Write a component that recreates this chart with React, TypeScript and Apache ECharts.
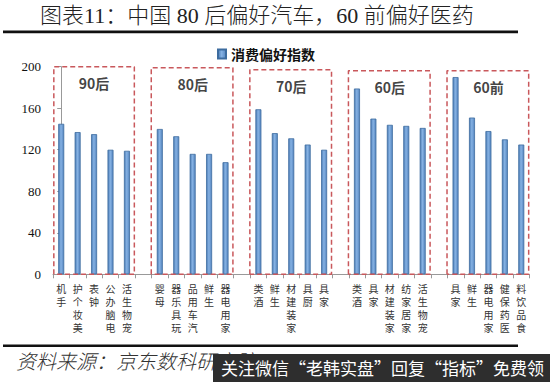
import React, { useEffect, useRef } from "react";
import * as echarts from "echarts";

const groupNames = ["90后", "80后", "70后", "60后", "60前"];
const groupCategories = [
  ["手机", "美妆个护", "钟表", "电脑办公", "宠物生活"],
  ["母婴", "玩具乐器", "汽车用品", "生鲜", "家用电器"],
  ["酒类", "生鲜", "家装建材", "厨具", "家具"],
  ["酒类", "家具", "家装建材", "家居家纺", "宠物生活"],
  ["家具", "生鲜", "家用电器", "医药保健", "食品饮料"],
];
const groupValues = [
  [145, 137, 135, 120, 119],
  [140, 133, 116, 116, 108],
  [159, 136, 131, 125, 120],
  [179, 150, 144, 143, 141],
  [190, 151, 138, 130, 125],
];
const boxTops = [200, 199, 197, 196, 196];
const yTicks = [0, 40, 80, 120, 160, 200];
const seriesName = "消费偏好指数";
const titleText = "图表11：中国 80 后偏好汽车，60 前偏好医药";
const sourceText = "资料来源：京东数科研究院";
const overlayText = "关注微信“老韩实盘”回复“指标”免费领";

export default function App() {
  const ref = useRef<HTMLDivElement>(null);
  useEffect(() => {
    if (!ref.current) return;
    const chart = echarts.init(ref.current, undefined, { renderer: "svg" });

    const categories: string[] = [];
    const values: (number | string)[] = [];
    groupCategories.forEach((g, gi) => {
      g.forEach((c, ci) => {
        categories.push(c);
        values.push(groupValues[gi][ci]);
      });
      if (gi < groupCategories.length - 1) {
        categories.push("");
        values.push("-");
      }
    });

    const boxSeries = groupNames.map((name, gi) => {
      const l = gi === 0 ? 6 * gi - 0.45 : 6 * gi - 0.52;
      const r = 6 * gi + 4.45;
      const t = boxTops[gi];
      return {
        type: "line",
        name: "box" + gi,
        xAxisIndex: 1,
        yAxisIndex: 0,
        symbol: "none",
        silent: true,
        z: 3,
        lineStyle: { color: "#c9585c", width: 1.5, type: [5, 3] },
        data: [
          [l, 0],
          [l, t],
          [r, t],
          [r, 0],
          [l, 0],
        ],
      };
    });

    const labelSeries = {
      type: "scatter",
      name: "groupLabels",
      xAxisIndex: 1,
      yAxisIndex: 0,
      symbolSize: 0.1,
      itemStyle: { color: "rgba(0,0,0,0)" },
      silent: true,
      z: 5,
      label: {
        show: true,
        position: "inside",
        formatter: "{b}",
        fontFamily: "'Noto Sans CJK SC', sans-serif",
        fontWeight: "bold",
        fontSize: 14,
        color: "#111",
      },
      data: groupNames.map((n, gi) => ({
        name: n,
        value: [6 * gi + 2, boxTops[gi] - 16],
      })),
    };

    chart.setOption({
      animation: false,
      backgroundColor: "#fff",
      legend: {
        data: [seriesName],
        left: 212,
        top: 42,
        icon: "rect",
        itemWidth: 8,
        itemHeight: 9,
        itemGap: 5,
        textStyle: {
          fontFamily: "'Noto Sans CJK SC', sans-serif",
          fontWeight: "bold",
          fontSize: 14,
          color: "#111",
        },
      },
      grid: { left: 53, right: 20.5, top: 66.7, bottom: 107.7, containLabel: false },
      xAxis: [
        {
          type: "category",
          data: categories,
          boundaryGap: true,
          axisLine: { show: true, lineStyle: { color: "#999", width: 1 } },
          axisTick: { show: true, interval: 0, length: 4, lineStyle: { color: "#999" } },
          axisLabel: {
            interval: 0,
            margin: 8,
            verticalAlign: "top",
            fontFamily: "'Noto Sans CJK SC', sans-serif",
            fontSize: 10,
            lineHeight: 13,
            color: "#333",
            formatter: (v: string) => v.split("").reverse().join("\n"),
          },
          splitLine: { show: false },
        },
        {
          type: "value",
          min: -0.5,
          max: 28.5,
          show: false,
        },
      ],
      yAxis: {
        type: "value",
        min: yTicks[0],
        max: yTicks[yTicks.length - 1],
        interval: 40,
        axisLine: { show: true, lineStyle: { color: "#999" } },
        axisTick: { show: true, length: 4, lineStyle: { color: "#999" } },
        axisLabel: {
          margin: 12,
          fontFamily: "'Liberation Serif', serif",
          fontSize: 13,
          color: "#111",
        },
        splitLine: { show: false },
      },
      series: [
        {
          type: "bar",
          name: seriesName,
          xAxisIndex: 0,
          yAxisIndex: 0,
          barWidth: 6,
          z: 2,
          itemStyle: {
            color: new echarts.graphic.LinearGradient(0, 0, 1, 0, [
              { offset: 0, color: "#4a7bb5" },
              { offset: 0.45, color: "#86b2e3" },
              { offset: 1, color: "#5585c0" },
            ]),
            borderColor: "#3d6c9f",
            borderWidth: 0.8,
          },
          data: values,
        },
        ...boxSeries,
        labelSeries,
      ],
      graphic: [
        {
          type: "text",
          left: 40,
          top: 4,
          style: {
            text: titleText,
            fontFamily: "'Liberation Serif', 'Noto Sans CJK SC', serif",
            fontSize: 22,
            fontWeight: 300,
            fill: "#222",
          },
        },
        { type: "rect", shape: { x: 3, y: 30.5, width: 515, height: 2.8 }, style: { fill: "#111" } },
        { type: "rect", shape: { x: 3, y: 344.5, width: 515, height: 2.6 }, style: { fill: "#111" } },
        {
          type: "text",
          left: 16,
          top: 352,
          style: {
            text: sourceText,
            fontFamily: "'Liberation Serif', 'Noto Sans CJK SC', serif",
            fontSize: 20,
            fontStyle: "italic",
            fontWeight: 300,
            fill: "#333",
          },
        },
        { type: "rect", shape: { x: 213, y: 354, width: 337, height: 28 }, style: { fill: "#2e2e2e" } },
        {
          type: "text",
          left: 221,
          top: 359,
          style: {
            text: overlayText,
            fontFamily: "'Noto Sans CJK SC', sans-serif",
            fontSize: 17,
            fill: "#fff",
          },
        },
      ],
    });
    return () => chart.dispose();
  }, []);
  return (
    <div
      ref={ref}
      style={{ position: "fixed", left: 0, top: 0, width: 550, height: 382 }}
    />
  );
}
